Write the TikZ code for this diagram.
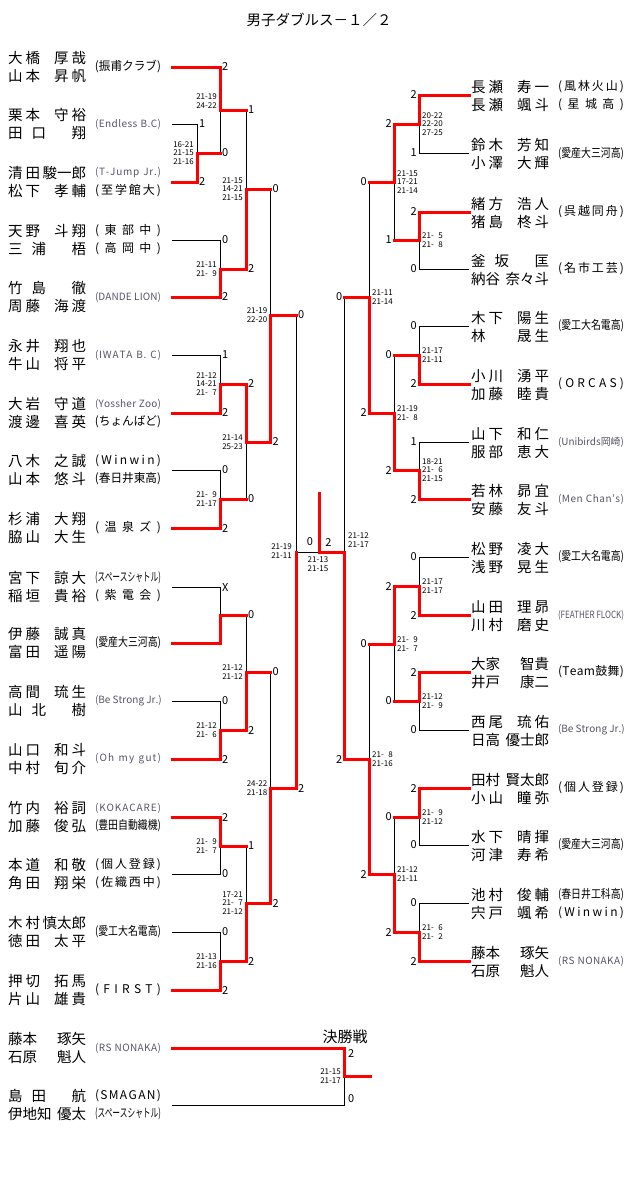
\documentclass[tikz,border=0pt]{standalone}
\usepackage{fontspec}
\setmainfont{Noto Sans CJK JP}
\usepackage{graphicx}
\def\sprEnd{\sprEnd}
\def\sprA#1#2{#1\ifx#2\sprEnd\else\hfill\expandafter\sprA\expandafter#2\fi}
\newcommand\spread[2]{\makebox[#1][l]{\sprA#2\sprEnd}}
\newsavebox\tbx
\newcommand\fit[2]{\sbox\tbx{#2}\ifdim\wd\tbx>#1\relax\resizebox{#1}{\height}{\usebox\tbx}\else\spread{#1}{#2}\fi}
\newcommand\gp{\hspace{3pt}}
\newcommand\Gp{\hspace{9pt}}
\newcommand\zz{\hphantom{0}}
\newcommand\NL[2]{\makebox[78pt][l]{#1\hfill#2}}
\tikzset{
  bl/.style={line width=0.9pt,black},
  rd/.style={line width=3pt,red,line cap=rect},
  nm/.style={inner sep=0pt,font=\fontsize{14.5}{15}\selectfont},
  tj/.style={inner sep=0pt,font=\fontsize{12}{12}\selectfont},
  tl/.style={inner sep=0pt,text={rgb,255:red,85;green,85;blue,105},font=\fontsize{10}{10}\selectfont},
  sc/.style={inner sep=0pt,font=\fontsize{11}{11}\selectfont},
  gl/.style={inner sep=0pt,anchor=east,align=right,font=\fontsize{8}{8.3}\selectfont},
  gr/.style={inner sep=0pt,anchor=west,align=left,font=\fontsize{8}{8.3}\selectfont},
}
% left entry names: y, s1, g1, s2, g2
\newcommand\LN[5]{%
  \node[nm,anchor=west] (LNa#1) at (8,#1-9) {\NL{#2}{#3}};
  \node[nm,anchor=west] (LNb#1) at (8,#1+9) {\NL{#4}{#5}};}
\newcommand\RN[5]{%
  \node[nm,anchor=west] (RNa#1) at (471,#1-8) {\NL{#2}{#3}};
  \node[nm,anchor=west] (RNb#1) at (471,#1+10) {\NL{#4}{#5}};}
\newcommand\LT[3]{\node[#1] (LT#2) at (128,#2) {\fit{66pt}{#3}};}
\newcommand\RT[3]{\node[#1] (RT#2) at (591,#2) {\fit{66pt}{#3}};}
\newcommand\DL[3]{\node[sc,anchor=west] (DL#1#2) at (#1,#2) {#3};}
\newcommand\DR[3]{\node[sc,anchor=east] (DR#1#2) at (#1,#2) {#3};}
\begin{document}
\begin{tikzpicture}[x=1pt,y=-1pt]
\fill[white] (0,0) rectangle (640,1197);
\useasboundingbox (0,0) rectangle (640,1197);
\node[inner sep=0pt,font=\fontsize{14.5}{15}\selectfont] (title) at (319,20) {男子ダブルス－１／２};
\node[inner sep=0pt,font=\fontsize{15}{15}\selectfont] (final) at (345,1037) {決勝戦};

% ---------- black lines ----------
\draw[bl] (172,124) -- (197,124) -- (197,182);
\draw[bl] (220,67) -- (220,153);
\draw[bl] (172,240) -- (220,240) -- (220,297);
\draw[bl] (246,110) -- (246,269);
\draw[bl] (172,355) -- (220,355) -- (220,413);
\draw[bl] (172,470) -- (220,470) -- (220,528);
\draw[bl] (246,384) -- (246,499);
\draw[bl] (270.5,189) -- (270.5,442);
\draw[bl] (172,587) -- (220,587) -- (220,643);
\draw[bl] (172,701) -- (220,701) -- (220,759);
\draw[bl] (246,615) -- (246,730);
\draw[bl] (172,874) -- (220,874) -- (220,817);
\draw[bl] (172,932) -- (220,932) -- (220,990);
\draw[bl] (246,846) -- (246,961);
\draw[bl] (270.5,672) -- (270.5,903);
\draw[bl] (296,315) -- (296,552) -- (319.5,552);
\draw[bl] (344.5,297) -- (344.5,552);
\draw[bl] (469,153) -- (419,153) -- (419,95);
\draw[bl] (469,269) -- (419,269) -- (419,212);
\draw[bl] (394,124) -- (394,240);
\draw[bl] (469,326) -- (419,326) -- (419,384);
\draw[bl] (469,442) -- (419,442) -- (419,499);
\draw[bl] (394,355) -- (394,470);
\draw[bl] (369,182) -- (369,413);
\draw[bl] (469,557) -- (419,557) -- (419,615);
\draw[bl] (469,730) -- (419,730) -- (419,672);
\draw[bl] (394,586) -- (394,701);
\draw[bl] (469,845) -- (419,845) -- (419,788);
\draw[bl] (469,903) -- (419,903) -- (419,961);
\draw[bl] (394,817) -- (394,932);
\draw[bl] (369,644) -- (369,874);
\draw[bl] (172,1105) -- (344,1105) -- (344,1048);

% ---------- red lines ----------
\draw[rd] (172,182) -- (197,182) -- (197,153) -- (220,153);
\draw[rd] (172,67) -- (220,67) -- (220,110) -- (246,110);
\draw[rd] (172,297) -- (220,297) -- (220,269) -- (246,269);
\draw[rd] (246,269) -- (246,189) -- (270.5,189);
\draw[rd] (172,413) -- (220,413) -- (220,384) -- (246,384);
\draw[rd] (172,528) -- (220,528) -- (220,499) -- (246,499);
\draw[rd] (246,384) -- (246,442) -- (270.5,442);
\draw[rd] (270.5,442) -- (270.5,315) -- (296,315);
\draw[rd] (172,643) -- (220,643) -- (220,615) -- (246,615);
\draw[rd] (172,759) -- (220,759) -- (220,730) -- (246,730);
\draw[rd] (246,730) -- (246,672) -- (270.5,672);
\draw[rd] (172,817) -- (220,817) -- (220,846) -- (246,846);
\draw[rd] (172,990) -- (220,990) -- (220,961) -- (246,961);
\draw[rd] (246,961) -- (246,903) -- (270.5,903);
\draw[rd] (270.5,903) -- (270.5,788) -- (296,788);
\draw[rd] (296,788) -- (296,552);
\draw[rd] (344.5,759) -- (344.5,552) -- (319.5,552) -- (319.5,493);
\draw[rd] (469,95) -- (419,95) -- (419,124) -- (394,124);
\draw[rd] (469,212) -- (419,212) -- (419,240) -- (394,240);
\draw[rd] (394,124) -- (394,182) -- (369,182);
\draw[rd] (469,384) -- (419,384) -- (419,355) -- (394,355);
\draw[rd] (469,499) -- (419,499) -- (419,470) -- (394,470);
\draw[rd] (394,470) -- (394,413) -- (369,413);
\draw[rd] (369,413) -- (369,297) -- (344.5,297);
\draw[rd] (469,615) -- (419,615) -- (419,586) -- (394,586);
\draw[rd] (469,672) -- (419,672) -- (419,701) -- (394,701);
\draw[rd] (394,586) -- (394,644) -- (369,644);
\draw[rd] (469,788) -- (419,788) -- (419,817) -- (394,817);
\draw[rd] (469,961) -- (419,961) -- (419,932) -- (394,932);
\draw[rd] (394,932) -- (394,874) -- (369,874);
\draw[rd] (369,874) -- (369,759) -- (344.5,759);
\draw[rd] (172,1048) -- (344,1048) -- (344,1076) -- (370,1076);

% ---------- left names ----------
\LN{67}{大\gp 橋}{厚\gp 哉}{山\gp 本}{昇\gp 帆}
\LN{124}{栗\gp 本}{守\gp 裕}{田\Gp 口}{翔}
\LN{182}{清\gp 田}{駿一郎}{松\gp 下}{孝\gp 輔}
\LN{240}{天\gp 野}{斗\gp 翔}{三\Gp 浦}{梧}
\LN{297}{竹\Gp 島}{徹}{周\gp 藤}{海\gp 渡}
\LN{355}{永\gp 井}{翔\gp 也}{牛\gp 山}{将\gp 平}
\LN{413}{大\gp 岩}{守\gp 道}{渡\gp 邊}{喜\gp 英}
\LN{470}{八\gp 木}{之\gp 誠}{山\gp 本}{悠\gp 斗}
\LN{528}{杉\gp 浦}{大\gp 翔}{脇\gp 山}{大\gp 生}
\LN{587}{宮\gp 下}{諒\gp 大}{稲\gp 垣}{貴\gp 裕}
\LN{643}{伊\gp 藤}{誠\gp 真}{富\gp 田}{遥\gp 陽}
\LN{701}{高\gp 間}{琉\gp 生}{山\Gp 北}{樹}
\LN{759}{山\gp 口}{和\gp 斗}{中\gp 村}{旬\gp 介}
\LN{817}{竹\gp 内}{裕\gp 詞}{加\gp 藤}{俊\gp 弘}
\LN{874}{本\gp 道}{和\gp 敬}{角\gp 田}{翔\gp 栄}
\LN{932}{木\gp 村}{慎太郎}{徳\gp 田}{太\gp 平}
\LN{990}{押\gp 切}{拓\gp 馬}{片\gp 山}{雄\gp 貴}
\LN{1048}{藤本}{琢矢}{石原}{魁人}
\LN{1105}{島\Gp 田}{航}{伊地知}{優太}

% ---------- left teams ----------
\LT{tj}{67}{(振甫クラブ)}
\LT{tl}{124}{(Endless~B.C)}
\LT{tl}{173}{(T-Jump~Jr.)}
\LT{tj}{191}{(至学館大)}
\LT{tj}{231}{(東部中)}
\LT{tj}{249}{(高岡中)}
\LT{tl}{297}{(DANDE~LION)}
\LT{tl}{355}{(IWATA~B.~C)}
\LT{tl}{404}{(Yossher~Zoo)}
\LT{tj}{422}{(ちょんばど)}
\LT{tj}{461}{(Winwin)}
\LT{tj}{479}{(春日井東高)}
\LT{tj}{528}{(温泉ズ)}
\LT{tj}{578}{(スペースシャトル)}
\LT{tj}{596}{(紫電会)}
\LT{tj}{643}{(愛産大三河高)}
\LT{tl}{701}{(Be~Strong~Jr.)}
\LT{tl}{759}{(Oh~my~gut)}
\LT{tl}{808}{(KOKACARE)}
\LT{tj}{826}{(豊田自動織機)}
\LT{tj}{865}{(個人登録)}
\LT{tj}{883}{(佐織西中)}
\LT{tj}{932}{(愛工大名電高)}
\LT{tj}{990}{(FIRST)}
\LT{tl}{1048}{(RS~NONAKA)}
\LT{tj}{1096}{(SMAGAN)}
\LT{tj}{1114}{(スペースシャトル)}

% ---------- right names ----------
\RN{95}{長\gp 瀬}{寿\gp 一}{長\gp 瀬}{颯\gp 斗}
\RN{153}{鈴\gp 木}{芳\gp 知}{小\gp 澤}{大\gp 輝}
\RN{212}{緒\gp 方}{浩\gp 人}{猪\gp 島}{柊\gp 斗}
\RN{269}{釜\Gp 坂}{匡}{納谷}{奈々斗}
\RN{326}{木\gp 下}{陽\gp 生}{林}{晟\gp 生}
\RN{384}{小\gp 川}{湧\gp 平}{加\gp 藤}{睦\gp 貴}
\RN{442}{山\gp 下}{和\gp 仁}{服\gp 部}{恵\gp 大}
\RN{499}{若\gp 林}{昴\gp 宜}{安\gp 藤}{友\gp 斗}
\RN{557}{松\gp 野}{凌\gp 大}{浅\gp 野}{晃\gp 生}
\RN{615}{山\gp 田}{理\gp 昴}{川\gp 村}{磨\gp 史}
\RN{672}{大家}{智貴}{井戸}{康二}
\RN{730}{西\gp 尾}{琉\gp 佑}{日高}{優士郎}
\RN{788}{田村}{賢太郎}{小\gp 山}{瞳\gp 弥}
\RN{845}{水\gp 下}{晴\gp 揮}{河\gp 津}{寿\gp 希}
\RN{903}{池\gp 村}{俊\gp 輔}{宍\gp 戸}{颯\gp 希}
\RN{961}{藤本}{琢矢}{石原}{魁人}

% ---------- right teams ----------
\RT{tj}{87}{(風林火山)}
\RT{tj}{105}{(星城高)}
\RT{tj}{154}{(愛産大三河高)}
\RT{tj}{212}{(呉越同舟)}
\RT{tj}{269}{(名市工芸)}
\RT{tj}{326}{(愛工大名電高)}
\RT{tj}{384}{(ORCAS)}
\RT{tl}{442}{(Unibirds岡崎)}
\RT{tl}{499}{(Men~Chan's)}
\RT{tj}{557}{(愛工大名電高)}
\RT{tl}{615}{(FEATHER~FLOCK)}
\RT{tj}{672}{(Team鼓舞)}
\RT{tl}{730}{(Be~Strong~Jr.)}
\RT{tj}{788}{(個人登録)}
\RT{tj}{845}{(愛産大三河高)}
\RT{tj}{895}{(春日井工科高)}
\RT{tj}{913}{(Winwin)}
\RT{tl}{961}{(RS~NONAKA)}

% ---------- left digits ----------
\DL{199}{124}{1}\DL{199}{182}{2}
\DL{222}{67}{2}\DL{222}{153}{0}
\DL{222}{240}{0}\DL{222}{297}{2}
\DL{248}{110}{1}\DL{248}{269}{2}
\DL{222}{355}{1}\DL{222}{413}{2}
\DL{222}{470}{0}\DL{222}{528}{2}
\DL{248}{384}{2}\DL{248}{499}{0}
\DL{272.5}{189}{0}\DL{272.5}{442}{2}
\DL{222}{587}{X}
\DL{222}{701}{0}\DL{222}{759}{2}
\DL{248}{615}{0}\DL{248}{730}{2}
\DL{222}{817}{2}\DL{222}{874}{0}
\DL{222}{932}{0}\DL{222}{990}{2}
\DL{248}{846}{1}\DL{248}{961}{2}
\DL{272.5}{672}{0}\DL{272.5}{903}{2}
\DL{298}{315}{0}\DL{298}{788}{2}
\node[sc] (semiL) at (310,542) {0};
\node[sc] (semiR) at (328.5,542) {2};
\DL{348}{1053}{2}\DL{348}{1099}{0}

% ---------- right digits ----------
\DR{417}{95}{2}\DR{417}{153}{1}\DR{417}{212}{2}\DR{417}{269}{0}
\DR{392}{124}{2}\DR{392}{240}{1}
\DR{417}{326}{0}\DR{417}{384}{2}\DR{417}{442}{1}\DR{417}{499}{2}
\DR{392}{355}{0}\DR{392}{470}{2}
\DR{367}{182}{0}\DR{367}{413}{2}
\DR{417}{557}{0}\DR{417}{615}{2}\DR{417}{672}{2}\DR{417}{730}{0}
\DR{392}{586}{2}\DR{392}{701}{0}
\DR{417}{788}{2}\DR{417}{845}{0}\DR{417}{903}{0}\DR{417}{961}{2}
\DR{392}{817}{0}\DR{392}{932}{2}
\DR{367}{644}{0}\DR{367}{874}{2}
\DR{342.5}{297}{0}\DR{342.5}{759}{2}

% ---------- game scores left ----------
\node[gl] (g1) at (194,153) {16-21\\21-15\\21-16};
\node[gl] (g2) at (217,101) {21-19\\24-22};
\node[gl] (g3) at (217,269) {21-11\\21-\zz9};
\node[gl] (g4) at (243,189) {21-15\\14-21\\21-15};
\node[gl] (g5) at (217,384) {21-12\\14-21\\21-\zz7};
\node[gl] (g6) at (217,499) {21-\zz9\\21-17};
\node[gl] (g7) at (243,442) {21-14\\25-23};
\node[gl] (g8) at (267.5,315) {21-19\\22-20};
\node[gl] (g9) at (217,730) {21-12\\21-\zz6};
\node[gl] (g10) at (243,672) {21-12\\21-12};
\node[gl] (g11) at (217,846) {21-\zz9\\21-\zz7};
\node[gl] (g12) at (217,961) {21-13\\21-16};
\node[gl] (g13) at (243,903) {17-21\\21-\zz7\\21-12};
\node[gl] (g14) at (267.5,788) {24-22\\21-18};
\node[gl] (g15) at (292,551) {21-19\\21-11};
\node[inner sep=0pt,align=center,font=\fontsize{8}{8.3}\selectfont] (gsemi) at (318,564) {21-13\\21-15};
\node[gl] (gfin) at (341,1076) {21-15\\21-17};

% ---------- game scores right ----------
\node[gr] (h1) at (422,124) {20-22\\22-20\\27-25};
\node[gr] (h2) at (422,240) {21-\zz5\\21-\zz8};
\node[gr] (h3) at (397,182) {21-15\\17-21\\21-14};
\node[gr] (h4) at (422,355) {21-17\\21-11};
\node[gr] (h5) at (422,470) {18-21\\21-\zz6\\21-15};
\node[gr] (h6) at (397,413) {21-19\\21-\zz8};
\node[gr] (h7) at (372,297) {21-11\\21-14};
\node[gr] (h8) at (422,586) {21-17\\21-17};
\node[gr] (h9) at (422,701) {21-12\\21-\zz9};
\node[gr] (h10) at (397,644) {21-\zz9\\21-\zz7};
\node[gr] (h11) at (422,817) {21-\zz9\\21-12};
\node[gr] (h12) at (422,932) {21-\zz6\\21-\zz2};
\node[gr] (h13) at (397,874) {21-12\\21-11};
\node[gr] (h14) at (372,759) {21-\zz8\\21-16};
\node[gr] (h15) at (348,540) {21-12\\21-17};
\end{tikzpicture}
\end{document}
